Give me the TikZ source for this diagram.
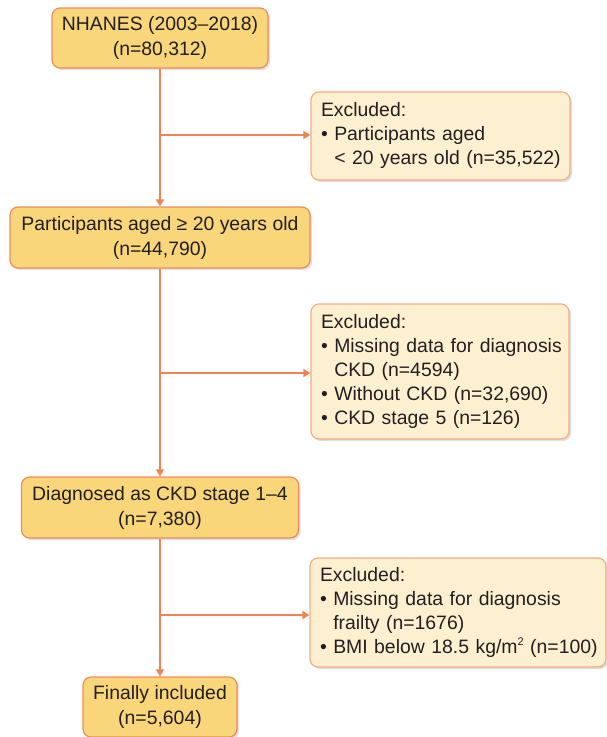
\documentclass[tikz,border=0pt]{standalone}
\usepackage{fontspec}
\setmainfont{Liberation Sans}
\usetikzlibrary{arrows.meta,shadows}
\definecolor{mainfill}{RGB}{249,214,122}
\definecolor{mainline}{RGB}{238,140,92}
\definecolor{exfill}{RGB}{253,240,208}
\definecolor{exline}{RGB}{244,172,132}
\definecolor{arrcol}{RGB}{240,130,85}
\definecolor{txt}{RGB}{35,31,32}
\newcommand{\bl}{\textbullet\ }
\newcommand{\bi}{\hphantom{\textbullet\ }}
\newcommand{\sqsup}{\raisebox{0.75ex}{\fontsize{11}{11}\selectfont 2}}
\newcommand{\exlines}[1]{\begin{tabular}{@{}l@{}}#1\end{tabular}}
\begin{document}
\begin{tikzpicture}[x=1pt,y=-1pt,
  mainbox/.style={draw=mainline, fill=mainfill, line width=1.2pt, rounded corners=8pt,
    align=center, inner sep=0pt, text=txt,
    font=\fontsize{19.4}{25}\selectfont,
    drop shadow={shadow xshift=2pt, shadow yshift=-2pt, opacity=0.25, fill=gray}},
  exbox/.style={draw=exline, fill=exfill, line width=1.2pt, rounded corners=8pt,
    align=left, inner xsep=10pt, inner ysep=0pt, text=txt,
    font=\fontsize{19.4}{24}\selectfont,
    drop shadow={shadow xshift=2pt, shadow yshift=-2pt, opacity=0.25, fill=gray}},
  arr/.style={draw=arrcol, line width=2.6pt, -{Triangle[length=7pt,width=8pt]}}]
\useasboundingbox (0,0) rectangle (607,737);
\begin{scope}
\clip (0,0) rectangle (607,737);
\node[mainbox, minimum width=216pt, minimum height=60pt] (b1) at (160,38) {NHANES (2003--2018)\\(n=80,312)};
\node[mainbox, minimum width=300pt, minimum height=61pt] (b2) at (160,237.5) {Participants aged ≥ 20 years old\\(n=44,790)};
\node[mainbox, minimum width=277pt, minimum height=61pt] (b3) at (160,507.5) {Diagnosed as CKD stage 1--4\\(n=7,380)};
\node[mainbox, minimum width=154pt, minimum height=60pt] (b4) at (160,707) {Finally included\\(n=5,604)};

\node[exbox, text width=239pt, minimum height=88pt] (e1) at (440.5,136) {\exlines{Excluded:\\\bl Participants aged\\\bi < 20 years old (n=35,522)}};
\node[exbox, text width=238pt, minimum height=135pt] (e2) at (440,371.5) {\exlines{Excluded:\\\bl Missing data for diagnosis\\\bi CKD (n=4594)\\\bl Without CKD (n=32,690)\\\bl CKD stage 5 (n=126)}};
\node[exbox, text width=276pt, minimum height=109pt] (e3) at (458,612.5) {\exlines{Excluded:\\\bl Missing data for diagnosis\\\bi frailty (n=1676)\\\bl BMI below 18.5 kg/m\sqsup{} (n=100)}};

\draw[arr] (b1) -- (b2);
\draw[arr] (b2) -- (b3);
\draw[arr] (b3) -- (b4);
\coordinate (j1) at (160,135);
\coordinate (j2) at (160,373);
\coordinate (j3) at (160,615);
\draw[arr] (j1) -- (j1 -| e1.west);
\draw[arr] (j2) -- (j2 -| e2.west);
\draw[arr] (j3) -- (j3 -| e3.west);
\end{scope}
\end{tikzpicture}
\end{document}
